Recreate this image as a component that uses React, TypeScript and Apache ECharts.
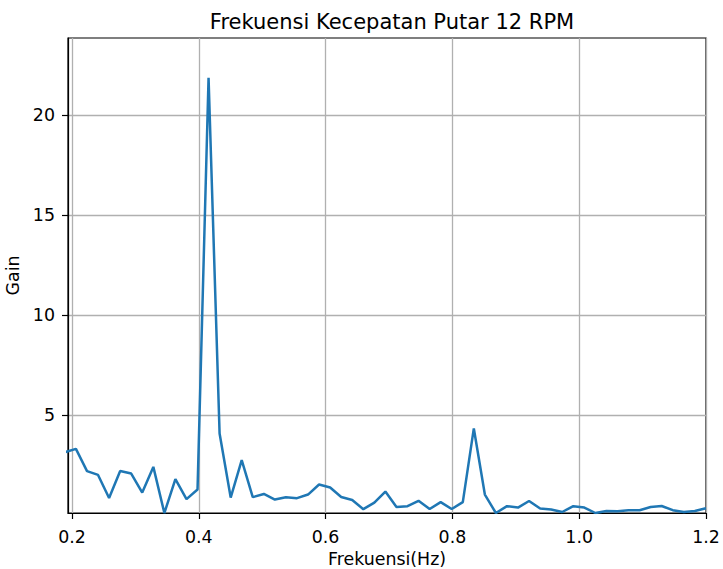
import React, { useEffect, useRef } from "react";
import * as echarts from "echarts";

const frequencies = [
  0.1888, 0.2062, 0.2237, 0.2411, 0.2585, 0.276, 0.2934, 0.3108, 0.3283, 0.3457,
  0.3631, 0.3806, 0.398, 0.4154, 0.4328, 0.4503, 0.4677, 0.4851, 0.5026, 0.52,
  0.5374, 0.5549, 0.5723, 0.5897, 0.6072, 0.6246, 0.642, 0.6595, 0.6769, 0.6943,
  0.7118, 0.7292, 0.7466, 0.7641, 0.7815, 0.7989, 0.8164, 0.8338, 0.8512, 0.8686,
  0.8861, 0.9035, 0.9209, 0.9384, 0.9558, 0.9732, 0.9907, 1.0081, 1.0255, 1.043,
  1.0604, 1.0778, 1.0953, 1.1127, 1.1301, 1.1476, 1.165, 1.1824, 1.1999,
];

const gains = [
  3.16, 3.33, 2.22, 2.03, 0.88, 2.23, 2.1, 1.15, 2.43, 0.13,
  1.82, 0.82, 1.3, 21.85, 4.1, 0.9, 2.77, 0.92, 1.08, 0.8,
  0.92, 0.87, 1.05, 1.55, 1.4, 0.93, 0.78, 0.32, 0.65, 1.2,
  0.43, 0.47, 0.74, 0.33, 0.67, 0.33, 0.67, 4.35, 1.05, 0.13,
  0.47, 0.4, 0.73, 0.35, 0.3, 0.18, 0.47, 0.4, 0.13, 0.23,
  0.22, 0.27, 0.27, 0.43, 0.48, 0.27, 0.18, 0.23, 0.37,
];

const xTicks = [0.2, 0.4, 0.6, 0.8, 1.0, 1.2];
const yTicks = [5, 10, 15, 20];

const FONT = "DejaVu Sans";

export default function App() {
  const ref = useRef<HTMLDivElement>(null);
  useEffect(() => {
    if (!ref.current) return;
    const chart = echarts.init(ref.current, null, { renderer: "svg" });
    const data = frequencies.map((f, i) => [f, gains[i]]);
    chart.setOption({
      animation: false,
      backgroundColor: "#ffffff",
      title: {
        text: "Frekuensi Kecepatan Putar 12 RPM",
        left: 387,
        top: 6,
        textAlign: "center",
        textStyle: { fontFamily: FONT, fontSize: 21, fontWeight: "normal", color: "#000" },
      },
      grid: {
        left: 68,
        right: 17,
        top: 38,
        bottom: 56,
        containLabel: false,
        outerBoundsMode: "none",
        show: true,
        borderColor: "#000",
        borderWidth: 1.2,
        backgroundColor: "transparent",
      },
      xAxis: {
        type: "value",
        min: 0.1937,
        max: 1.2,
        name: "Frekuensi(Hz)",
        nameLocation: "middle",
        nameGap: 37,
        nameTextStyle: { fontFamily: FONT, fontSize: 17.4, color: "#000" },
        axisLine: { show: true, onZero: false, lineStyle: { color: "#000", width: 1.2 } },
        axisTick: {
          show: true,
          length: 6,
          lineStyle: { color: "#000", width: 1.2 },
          customValues: xTicks,
        },
        axisLabel: {
          fontFamily: FONT,
          fontSize: 17.4,
          color: "#000",
          margin: 15,
          customValues: xTicks,
          formatter: (v: number) => v.toFixed(1),
        },
        splitLine: { show: true, lineStyle: { color: "#b0b0b0", width: 1.3 } },
      },
      yAxis: {
        type: "value",
        min: 0.13,
        max: 23.83,
        name: "Gain",
        nameLocation: "middle",
        nameGap: 43,
        nameTextStyle: { fontFamily: FONT, fontSize: 17.4, color: "#000" },
        axisLine: { show: true, onZero: false, lineStyle: { color: "#000", width: 1.2 } },
        axisTick: {
          show: true,
          length: 6,
          lineStyle: { color: "#000", width: 1.2 },
          customValues: yTicks,
        },
        axisLabel: {
          fontFamily: FONT,
          fontSize: 17.4,
          color: "#000",
          margin: 13,
          customValues: yTicks,
        },
        splitLine: { show: true, lineStyle: { color: "#b0b0b0", width: 1.3 } },
      },
      series: [
        {
          type: "line",
          data,
          showSymbol: false,
          clip: true,
          lineStyle: { color: "#1f77b4", width: 2.5 },
          itemStyle: { color: "#1f77b4" },
        },
      ],
    });
    return () => chart.dispose();
  }, []);
  return <div ref={ref} style={{ width: 723, height: 569, position: "absolute", left: 0, top: 0 }} />;
}
